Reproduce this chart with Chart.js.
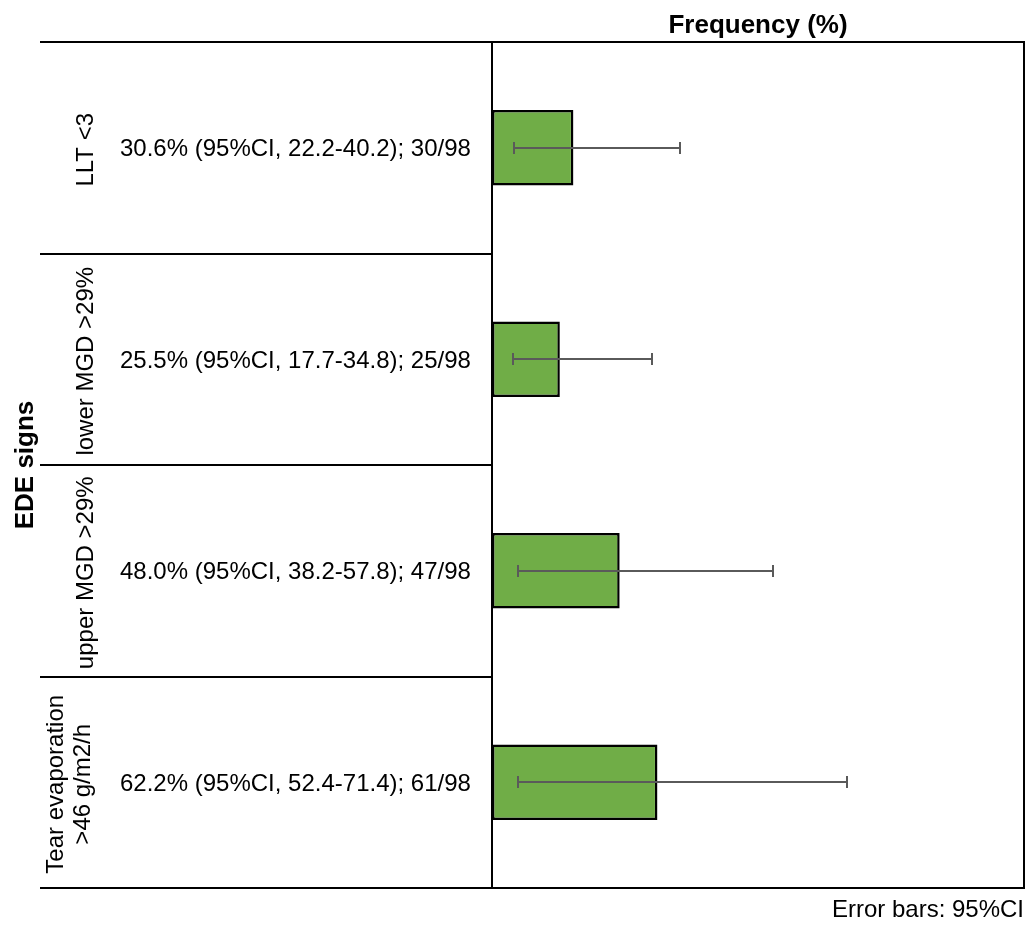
<!DOCTYPE html>
<html>
<head>
<meta charset="utf-8">
<script src="https://cdn.jsdelivr.net/npm/chart.js@4.4.1/dist/chart.umd.min.js"></script>
<style>
  html, body { margin: 0; padding: 0; background: #ffffff; }
  #wrap { position: relative; width: 1030px; height: 925px; }
</style>
</head>
<body>
<div id="wrap"><canvas id="c"></canvas></div>
<script>
// ---- data ----
const categories = [['LLT <3'], ['lower MGD >29%'], ['upper MGD >29%'], ['Tear evaporation', '>46 g/m2/h']];
const frequency = [30.6, 25.5, 48.0, 62.2];
const statLabels = [
  '30.6% (95%CI, 22.2-40.2); 30/98',
  '25.5% (95%CI, 17.7-34.8); 25/98',
  '48.0% (95%CI, 38.2-57.8); 47/98',
  '62.2% (95%CI, 52.4-71.4); 61/98'
];
// error bar ends as drawn in the picture (x-axis units, %)
const errorLow = [8.4, 7.8, 9.8, 9.8];
const errorHigh = [70.8, 60.3, 105.8, 133.6];
const axisTitle = 'Frequency (%)';
const groupTitle = 'EDE signs';
const footNote = 'Error bars: 95%CI';
const xMax = 200;

const FONT = '"Liberation Sans", Arial, Helvetica, sans-serif';

const tablePlugin = {
  id: 'tablePlugin',
  afterDatasetsDraw(chart) {
    const ctx = chart.ctx;
    const xs = chart.scales.x;
    const meta = chart.getDatasetMeta(0);
    ctx.save();
    ctx.strokeStyle = '#5a5a5a';
    ctx.lineWidth = 2;
    meta.data.forEach((el, i) => {
      const y = Math.round(el.y);
      const x1 = Math.round(xs.getPixelForValue(errorLow[i]));
      const x2 = Math.round(xs.getPixelForValue(errorHigh[i]));
      ctx.beginPath();
      ctx.moveTo(x1, y); ctx.lineTo(x2, y);
      ctx.moveTo(x1, y - 6); ctx.lineTo(x1, y + 6);
      ctx.moveTo(x2, y - 6); ctx.lineTo(x2, y + 6);
      ctx.stroke();
    });
    ctx.restore();
  },
  afterDraw(chart) {
    const ctx = chart.ctx;
    const a = chart.chartArea;
    const ys = chart.scales.y;
    const tableLeft = 40;
    ctx.save();
    ctx.strokeStyle = '#000000';
    ctx.lineWidth = 2;
    ctx.beginPath();
    // top & bottom rules
    ctx.moveTo(tableLeft, a.top); ctx.lineTo(a.right + 1, a.top);
    ctx.moveTo(tableLeft, a.bottom); ctx.lineTo(a.right + 1, a.bottom);
    // vertical axis and right border
    ctx.moveTo(a.left, a.top); ctx.lineTo(a.left, a.bottom);
    ctx.moveTo(a.right, a.top); ctx.lineTo(a.right, a.bottom);
    // row separators
    for (let i = 0; i < categories.length - 1; i++) {
      const yb = Math.round((ys.getPixelForValue(i) + ys.getPixelForValue(i + 1)) / 2);
      ctx.moveTo(tableLeft, yb); ctx.lineTo(a.left - 1, yb);
    }
    ctx.stroke();

    ctx.fillStyle = '#000000';
    // stats text
    ctx.font = '24px ' + FONT;
    ctx.textAlign = 'left';
    ctx.textBaseline = 'alphabetic';
    statLabels.forEach((t, i) => {
      const yc = ys.getPixelForValue(i);
      ctx.fillText(t, 120, yc + 8.6);
    });
    // rotated row labels
    ctx.textAlign = 'center';
    categories.forEach((lines, i) => {
      const yc = ys.getPixelForValue(i);
      const base = lines.length === 1 ? [93] : [63, 90];
      lines.forEach((ln, j) => {
        ctx.save();
        ctx.translate(base[j], yc + 2);
        ctx.rotate(-Math.PI / 2);
        ctx.fillText(ln, 0, 0);
        ctx.restore();
      });
    });
    // group title
    ctx.font = 'bold 26px ' + FONT;
    ctx.save();
    ctx.translate(33, (a.top + a.bottom) / 2);
    ctx.rotate(-Math.PI / 2);
    ctx.fillText(groupTitle, 0, 0);
    ctx.restore();
    // axis title
    ctx.fillText(axisTitle, (a.left + a.right) / 2, 33);
    // footnote
    ctx.font = '24px ' + FONT;
    ctx.textAlign = 'right';
    ctx.fillText(footNote, 1024, 917);
    ctx.restore();
  }
};

new Chart(document.getElementById('c'), {
  type: 'bar',
  data: {
    labels: categories.map(c => c.join(' ')),
    datasets: [{
      data: frequency,
      backgroundColor: '#70AD47',
      borderColor: '#000000',
      borderWidth: 2.5,
      borderSkipped: false,
      categoryPercentage: 1,
      barPercentage: 0.356
    }]
  },
  options: {
    indexAxis: 'y',
    responsive: true,
    maintainAspectRatio: false,
    animation: false,
    layout: { padding: { left: 492, right: 6, top: 42, bottom: 37 } },
    plugins: { legend: { display: false }, tooltip: { enabled: false }, title: { display: false } },
    scales: {
      x: { display: false, min: 0, max: xMax },
      y: { display: false, offset: true }
    }
  },
  plugins: [tablePlugin]
});
</script>
</body>
</html>
